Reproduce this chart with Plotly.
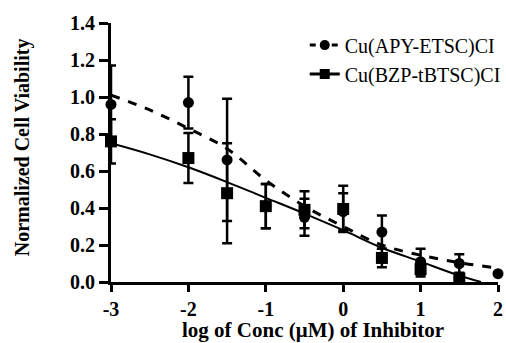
import plotly.graph_objects as go

# Data
circ_x = [-3, -2, -1.5, -1, -0.5, 0, 0.5, 1, 1.5, 2]
circ_y = [0.96, 0.97, 0.66, 0.41, 0.35, 0.38, 0.27, 0.11, 0.10, 0.045]
circ_err = [0.21, 0.14, 0.33, 0.12, 0.10, 0.10, 0.09, 0.07, 0.05, 0.0]

sq_x = [-3, -2, -1.5, -1, -0.5, 0, 0.5, 1, 1.5]
sq_y = [0.76, 0.67, 0.48, 0.41, 0.39, 0.395, 0.13, 0.07, 0.02]
sq_err = [0.12, 0.135, 0.27, 0.12, 0.10, 0.125, 0.05, 0.04, 0.02]

fit_circ_x = [-3, -2.5, -2, -1.5, -1, -0.5, 0, 0.5, 1, 1.5, 2]
fit_circ_y = [1.01, 0.93, 0.83, 0.72, 0.55, 0.41, 0.30, 0.20, 0.145, 0.105, 0.075]

fit_sq_x = [-3, -2.5, -2, -1.5, -1, -0.5, 0, 0.5, 1, 1.5, 1.78]
fit_sq_y = [0.75, 0.69, 0.62, 0.54, 0.455, 0.37, 0.28, 0.185, 0.11, 0.035, 0.0]

names = ["Cu(APY-ETSC)CI", "Cu(BZP-tBTSC)CI"]
x_title = "log of Conc (μM) of Inhibitor"
y_title = "Normalized Cell Viability"

FONT = "Times New Roman, Liberation Serif, serif"
fig = go.Figure()

fig.add_trace(go.Scatter(x=fit_circ_x, y=fit_circ_y, mode="lines", line=dict(color="black", width=3, dash="dash", shape="spline"),
                         showlegend=False, cliponaxis=False))
fig.add_trace(go.Scatter(x=fit_sq_x, y=fit_sq_y, mode="lines", line=dict(color="black", width=2, shape="spline"),
                         showlegend=False, cliponaxis=False))
fig.add_trace(go.Scatter(x=circ_x, y=circ_y, mode="markers", marker=dict(symbol="circle", size=11, color="black"),
                         error_y=dict(type="data", array=circ_err, color="black", thickness=2.5, width=5),
                         showlegend=False, cliponaxis=False))
fig.add_trace(go.Scatter(x=sq_x, y=sq_y, mode="markers", marker=dict(symbol="square", size=12, color="black"),
                         error_y=dict(type="data", array=sq_err, color="black", thickness=2.5, width=5),
                         showlegend=False, cliponaxis=False))
# legend entries
fig.add_trace(go.Scatter(x=[None], y=[None], mode="lines+markers", name=names[0],
                         line=dict(color="black", width=3, dash="6px,5px"), marker=dict(symbol="circle", size=10, color="black")))
fig.add_trace(go.Scatter(x=[None], y=[None], mode="lines+markers", name=names[1],
                         line=dict(color="black", width=3), marker=dict(symbol="square", size=10, color="black")))

fig.update_layout(
    width=506, height=343,
    margin=dict(l=111, r=8, t=23, b=61, autoexpand=False),
    plot_bgcolor="white", paper_bgcolor="white",
    font=dict(family=FONT, color="black"),
    showlegend=True,
    legend=dict(x=1.02, y=0.99, xanchor="right", yanchor="top", font=dict(family=FONT, size=20),
                bgcolor="rgba(0,0,0,0)", itemwidth=30),
    xaxis=dict(range=[-3, 2], tickvals=[-3, -2, -1, 0, 1, 2], ticktext=["-3", "-2", "-1", "0", "1", "2"],
               showgrid=False, zeroline=False, showline=True, linecolor="black", linewidth=3,
               ticks="outside", ticklen=7, tickwidth=2.5, tickcolor="black", automargin=False,
               tickfont=dict(family=FONT, size=20, weight="bold")),
    yaxis=dict(range=[0, 1.4], tickvals=[0, 0.2, 0.4, 0.6, 0.8, 1.0, 1.2, 1.4], tickformat=".1f",
               showgrid=False, zeroline=False, showline=True, linecolor="black", linewidth=3,
               ticks="outside", ticklen=9, tickwidth=2.5, tickcolor="black", automargin=False,
               tickfont=dict(family=FONT, size=20, weight="bold")),
    annotations=[
        dict(text=x_title, xref="paper", yref="paper", x=0.522, y=-0.186, xanchor="center", yanchor="middle",
             showarrow=False, font=dict(family=FONT, size=21, weight="bold")),
        dict(text=y_title, xref="paper", yref="paper", x=-0.23, y=0.52, textangle=-90, xanchor="center", yanchor="middle",
             showarrow=False, font=dict(family=FONT, size=20, weight="bold")),
    ],
)

fig.write_html("out.html", config={"displayModeBar": False},
               post_script="document.body.style.margin='0px';document.body.style.overflow='hidden';")
